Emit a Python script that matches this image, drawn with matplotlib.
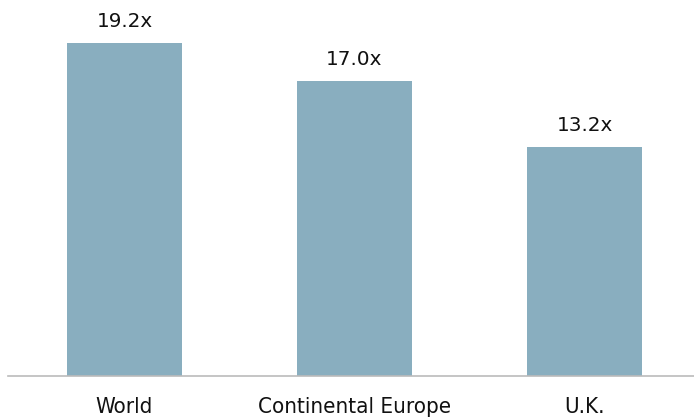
import matplotlib
matplotlib.use("Agg")
import matplotlib.pyplot as plt

regions = ["World", "Continental Europe", "U.K."]
multiples = [19.2, 17.0, 13.2]

bar_color = "#89aebf"

fig = plt.figure(figsize=(6.94, 4.17), dpi=100)
ax = fig.add_axes([8 / 694, 41 / 417, 1 - 8 / 694, 1 - 41 / 417])

x = list(range(len(regions)))
ax.bar(x, multiples, width=0.5, color=bar_color, zorder=2)

# value labels above each bar
for xi, v in zip(x, multiples):
    ax.text(xi, v + 0.72, f"{v:.1f}x", ha="center", va="bottom",
            fontsize=14.4, color="#111111", family="DejaVu Sans")

ax.set_xlim(-0.5065, 2.476)
ax.set_ylim(0, 21.68)

ax.set_xticks(x)
ax.set_xticklabels(regions, family="DejaVu Sans", stretch="condensed",
                   fontsize=16, color="#111111")
ax.tick_params(axis="x", length=0, pad=15)
ax.set_yticks([])

for side in ["top", "right", "left"]:
    ax.spines[side].set_visible(False)
ax.spines["bottom"].set_color("#bbbbbb")
ax.spines["bottom"].set_linewidth(1.2)

fig.savefig("out.png", dpi=100)
